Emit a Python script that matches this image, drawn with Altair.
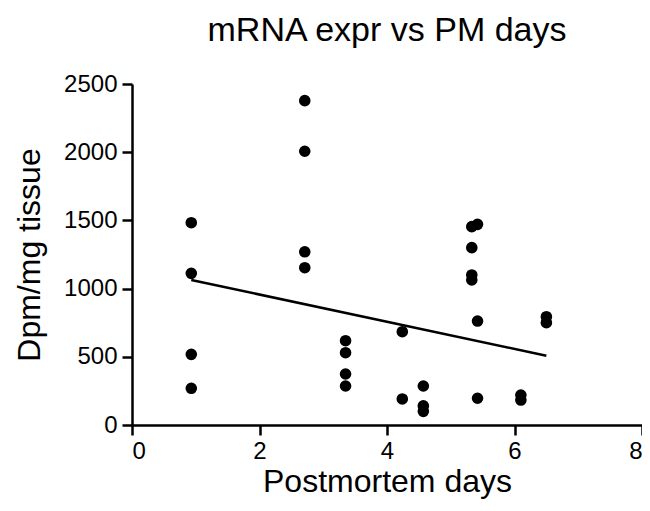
import altair as alt
import pandas as pd

days = [0.93, 0.93, 0.93, 0.93,
        2.71, 2.71, 2.71, 2.71,
        3.35, 3.35, 3.35, 3.35,
        4.24, 4.24,
        4.57, 4.57, 4.57,
        5.33, 5.33, 5.33, 5.33,
        5.42, 5.42, 5.42,
        6.10, 6.10,
        6.50, 6.50]
dpm = [1483, 1112, 518, 269,
       2378, 2007, 1270, 1153,
       618, 530, 374, 286,
       684, 191,
       286, 140, 100,
       1454, 1300, 1100, 1063,
       1471, 762, 196,
       220, 183,
       794, 750]

# fitted line as drawn in the figure (endpoints)
fit_days = [0.93, 6.50]
fit_dpm = [1063, 508]

df = pd.DataFrame({"days": days, "dpm": dpm})
fit = pd.DataFrame({"days": fit_days, "dpm": fit_dpm})

FONT = "Liberation Sans"

x = alt.X("days:Q", scale=alt.Scale(domain=[0, 8], nice=False),
          axis=alt.Axis(title="Postmortem days", values=[0, 2, 4, 6, 8], format="d",
                        titleFontSize=32, titlePadding=3, labelPadding=4))
y = alt.Y("dpm:Q", scale=alt.Scale(domain=[0, 2500], nice=False),
          axis=alt.Axis(title="Dpm/mg tissue", values=[0, 500, 1000, 1500, 2000, 2500], format="d",
                        titleFontSize=32, titlePadding=17, labelPadding=5))

points = alt.Chart(df).mark_circle(size=135, color="black", opacity=1).encode(x=x, y=y)
line = alt.Chart(fit).mark_line(color="black", strokeWidth=2.5).encode(x=x, y=y)

chart = alt.layer(points, line).properties(
    width=510, height=341,
    title=alt.TitleParams("mRNA expr vs PM days", fontSize=34, font=FONT, fontWeight="normal",
                          color="black", offset=24, anchor="middle"),
    autosize=alt.AutoSizeParams(type="none"),
    padding={"left": 124, "top": 76, "right": 0, "bottom": 78},
).configure_view(stroke=None).configure_axis(
    grid=False, domainColor="black", domainWidth=2.5, tickColor="black", tickWidth=2.5,
    tickSize=10, labelFont=FONT, labelFontSize=24, labelColor="black", titleFont=FONT,
    titleFontWeight="normal", titleColor="black",
)

chart.save("out.html", embed_options={"renderer": "svg", "actions": False})
